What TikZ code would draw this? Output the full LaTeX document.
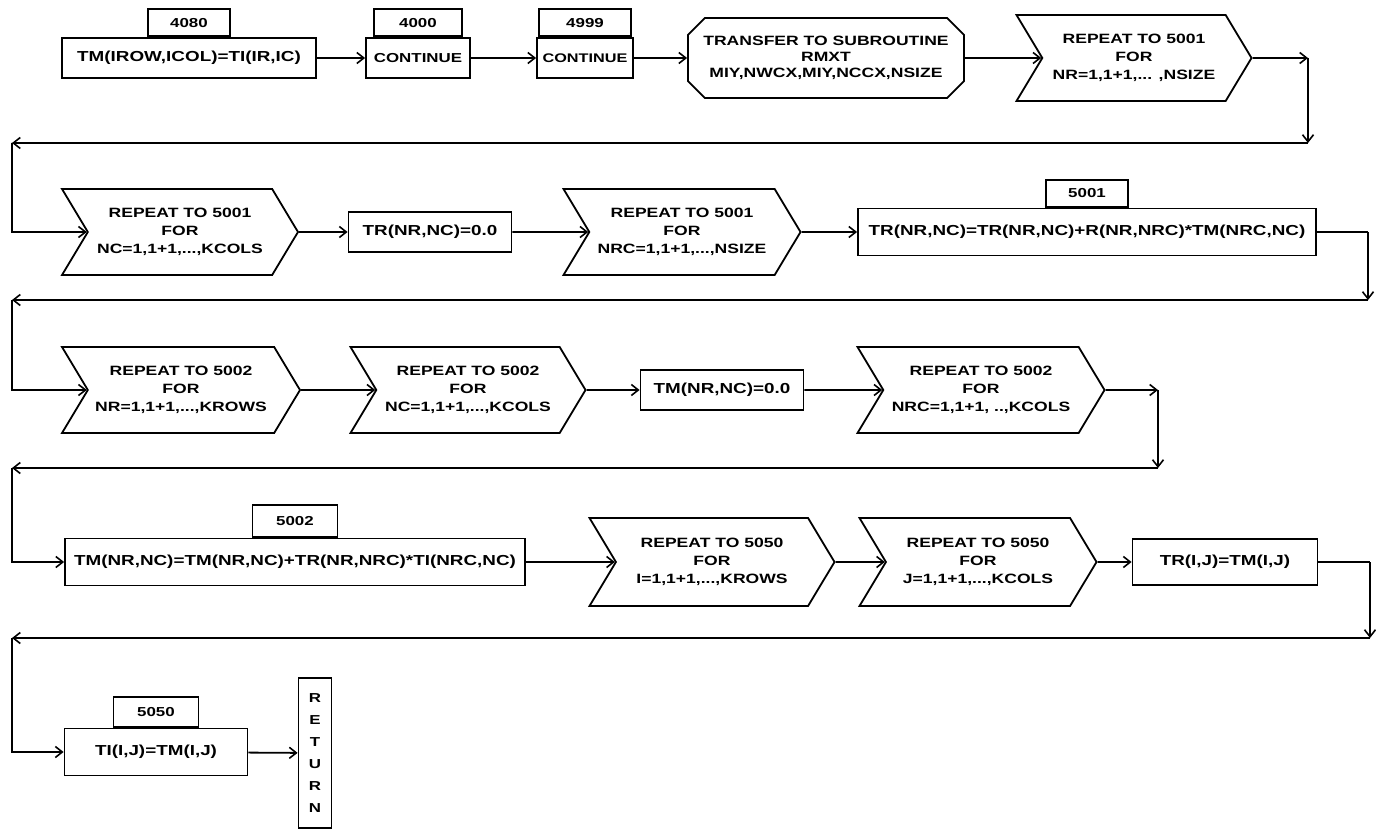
\documentclass[tikz,border=0pt]{standalone}
\usepackage{fontspec}
\newfontfamily\flowfont[FakeStretch=1.3]{Liberation Sans}
\usetikzlibrary{arrows.meta,positioning,shapes.misc,shapes.symbols}

\begin{document}
\begin{tikzpicture}[
    x=1pt, y=-1pt,
    font=\flowfont\bfseries\fontsize{14.5}{17}\selectfont,
    stmt/.style={rectangle, draw, line width=1.8pt, minimum height=40pt, inner sep=2pt},
    tag/.style={rectangle, draw, line width=1.8pt, minimum width=85pt, minimum height=27pt, inner sep=1pt, font=\flowfont\bfseries\fontsize{13}{15}\selectfont},
    loopbox/.style={signal, signal from=west, signal to=east, signal pointer angle=118, draw, line width=1.8pt, minimum width=236pt, minimum height=86pt, align=center, inner sep=1pt, font=\flowfont\bfseries\fontsize{13.5}{18}\selectfont},
    callbox/.style={chamfered rectangle, chamfered rectangle xsep=14pt, draw, line width=1.8pt, minimum width=276pt, minimum height=80pt, align=center, inner sep=1pt, font=\flowfont\bfseries\fontsize{13.5}{16}\selectfont},
    flow/.style={-{Straight Barb[length=7pt,width=11pt,line width=1.6pt]}, line width=1.8pt},
    link/.style={line width=1.8pt},
]
    \useasboundingbox (0,0) rectangle (1376,832);

    % row 1
    \node[stmt, minimum width=254pt] (copyin) at (189,58) {TM(IROW,ICOL)=TI(IR,IC)};
    \node[tag, minimum width=82pt, above=0pt of copyin] (lab4080) {4080};
    \node[stmt, minimum width=104pt, font=\flowfont\bfseries\fontsize{13}{15}\selectfont] (cont1) at (418,58) {CONTINUE};
    \node[tag, minimum width=88pt, above=0pt of cont1] (lab4000) {4000};
    \node[stmt, minimum width=96pt, font=\flowfont\bfseries\fontsize{12.5}{15}\selectfont] (cont2) at (585,58) {CONTINUE};
    \node[tag, minimum width=92pt, above=0pt of cont2] (lab4999) {4999};
    \node[callbox] (callrmxt) at (826,58) {TRANSFER TO SUBROUTINE\\RMXT\\MIY,NWCX,MIY,NCCX,NSIZE};
    \node[loopbox, minimum width=235pt] (loopnr) at (1134,58) {REPEAT TO 5001\\FOR\\NR=1,1+1,... ,NSIZE};

    % row 2
    \node[loopbox] (loopnc) at (180,232) {REPEAT TO 5001\\FOR\\NC=1,1+1,...,KCOLS};
    \node[stmt, minimum width=163pt] (zerotr) at (430,232) {TR(NR,NC)=0.0};
    \node[loopbox, minimum width=237pt] (loopnrc) at (682,232) {REPEAT TO 5001\\FOR\\NRC=1,1+1,...,NSIZE};
    \node[stmt, minimum width=458pt, minimum height=47pt] (accumtr) at (1087,232) {TR(NR,NC)=TR(NR,NC)+R(NR,NRC)*TM(NRC,NC)};
    \node[tag, minimum width=82pt, above=0pt of accumtr] (lab5001) {5001};

    % row 3
    \node[loopbox, minimum width=238pt] (loopmr) at (181,390) {REPEAT TO 5002\\FOR\\NR=1,1+1,...,KROWS};
    \node[loopbox, minimum width=235pt] (loopmc) at (468,390) {REPEAT TO 5002\\FOR\\NC=1,1+1,...,KCOLS};
    \node[stmt, minimum width=163pt] (zerotm) at (722,390) {TM(NR,NC)=0.0};
    \node[loopbox, minimum width=247pt] (loopmrc) at (981,390) {REPEAT TO 5002\\FOR\\NRC=1,1+1, ..,KCOLS};

    % row 4
    \node[stmt, minimum width=460pt, minimum height=47pt] (accumtm) at (295,562) {TM(NR,NC)=TM(NR,NC)+TR(NR,NRC)*TI(NRC,NC)};
    \node[tag, minimum height=32pt, above=0pt of accumtm] (lab5002) {5002};
    \node[loopbox, minimum width=245pt, minimum height=88pt] (loopi) at (712,562) {REPEAT TO 5050\\FOR\\I=1,1+1,...,KROWS};
    \node[loopbox, minimum width=237pt, minimum height=88pt] (loopj) at (978,562) {REPEAT TO 5050\\FOR\\J=1,1+1,...,KCOLS};
    \node[stmt, minimum width=185pt, minimum height=46pt] (copytr) at (1225,562) {TR(I,J)=TM(I,J)};

    % row 5
    \node[stmt, minimum width=183pt, minimum height=47pt] (copyti) at (156,752) {TI(I,J)=TM(I,J)};
    \node[tag, minimum height=30pt, above=0pt of copyti] (lab5050) {5050};
    \node[stmt, minimum width=33pt, minimum height=150pt, align=center, font=\flowfont\bfseries\fontsize{13}{22}\selectfont] (ret) at (315,753) {R\\E\\T\\U\\R\\N};

    % turn points
    \coordinate (t1) at (1308,58);
    \coordinate (b1) at (1308,143);
    \coordinate (l1) at (12,143);
    \coordinate (e1) at (12,232);
    \coordinate (t2) at (1368,232);
    \coordinate (b2) at (1368,300);
    \coordinate (l2) at (12,300);
    \coordinate (e2) at (12,390);
    \coordinate (t3) at (1158,390);
    \coordinate (b3) at (1158,468);
    \coordinate (l3) at (12,468);
    \coordinate (e3) at (12,562);
    \coordinate (t4) at (1370,562);
    \coordinate (b4) at (1370,638);
    \coordinate (l4) at (12,638);
    \coordinate (e4) at (12,752);

    \draw[flow] (copyin) -- (cont1);
    \draw[flow] (cont1) -- (cont2);
    \draw[flow] (cont2) -- (callrmxt);
    \draw[flow] (callrmxt) -- (loopnr);
    \draw[flow] (loopnr) -- (t1);
    \draw[flow] (t1) -- (b1);
    \draw[flow] (b1) -- (l1);
    \draw[flow] (l1) -- (e1) -- (loopnc);

    \draw[flow] (loopnc) -- (zerotr);
    \draw[flow] (zerotr) -- (loopnrc);
    \draw[flow] (loopnrc) -- (accumtr);
    \draw[link] (accumtr) -- (t2);
    \draw[flow] (t2) -- (b2);
    \draw[flow] (b2) -- (l2);
    \draw[flow] (l2) -- (e2) -- (loopmr);

    \draw[flow] (loopmr) -- (loopmc);
    \draw[flow] (loopmc) -- (zerotm);
    \draw[flow] (zerotm) -- (loopmrc);
    \draw[flow] (loopmrc) -- (t3);
    \draw[flow] (t3) -- (b3);
    \draw[flow] (b3) -- (l3);
    \draw[flow] (l3) -- (e3) -- (accumtm);

    \draw[flow] (accumtm) -- (loopi);
    \draw[flow] (loopi) -- (loopj);
    \draw[flow] (loopj) -- (copytr);
    \draw[link] (copytr) -- (t4);
    \draw[flow] (t4) -- (b4);
    \draw[flow] (b4) -- (l4);
    \draw[flow] (l4) -- (e4) -- (copyti);

    \draw[flow] (copyti) -- (ret);
\end{tikzpicture}
\end{document}
